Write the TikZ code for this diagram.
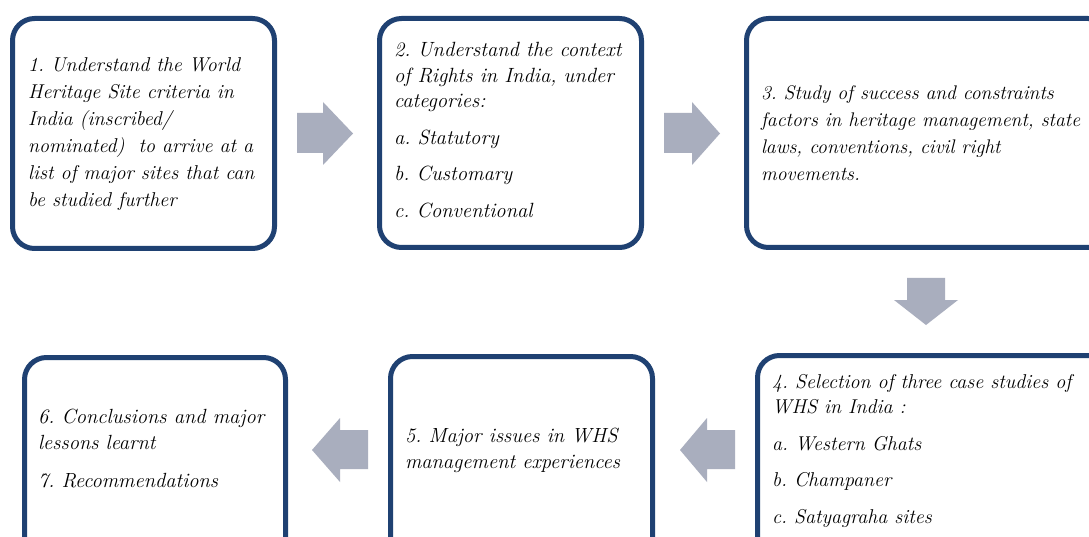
\documentclass[tikz,border=0pt]{standalone}
\usepackage{fontspec}
\definecolor{boxblue}{RGB}{31,65,114}
\definecolor{arrowgray}{RGB}{169,174,190}
\tikzset{
  stepbox/.style={draw=boxblue, line width=5pt, rounded corners=22pt, fill=white, inner sep=0pt, outer sep=0pt},
  boxtext/.style={anchor=base west, inner sep=0pt, outer sep=0pt, font=\itshape\frenchspacing},
  blockarrow/.style={fill=arrowgray, draw=none}
}
\newcommand{\itemgap}{\par\vspace{11pt}}
\begin{document}
\begin{tikzpicture}[x=1pt,y=-1pt]
\useasboundingbox[fill=white] (0,0) rectangle (1089,537);
% boxes
\draw[stepbox] (12.5,18.5) rectangle (274.5,248.5);
\node[inner sep=0pt] (b1) at (143.5,133.5) {};
\draw[stepbox] (379.5,18.5) rectangle (641.5,247.5);
\node[inner sep=0pt] (b2) at (510.5,133) {};
\draw[stepbox] (746.5,18.5) rectangle (1110,247.5);
\node[inner sep=0pt] (b3) at (920,133) {};
\draw[stepbox] (757.5,355.5) rectangle (1110,570);
\node[inner sep=0pt] (b4) at (920,450) {};
\draw[stepbox] (390.5,356.5) rectangle (652.5,570);
\node[inner sep=0pt] (b5) at (521,450) {};
\draw[stepbox] (24.5,357.5) rectangle (285.5,570);
\node[inner sep=0pt] (b6) at (155,450) {};
% texts
\node[boxtext] (t1) at (28,72) {\parbox[t]{300pt}{\raggedright\fontsize{20pt}{27pt}\selectfont
1. Understand the World\\
Heritage Site criteria in\\
India (inscribed/\\
nominated)\ \ to arrive at a\\
list of major sites that can\\
be studied further}};
\node[boxtext] (t2) at (394,57) {\parbox[t]{300pt}{\raggedright\fontsize{20.6pt}{25.5pt}\selectfont
2. Understand the context\\
of Rights in India, under\\
categories:\itemgap
a. Statutory\itemgap
b. Customary\itemgap
c. Conventional}};
\node[boxtext] (t3) at (761,100) {\parbox[t]{400pt}{\raggedright\fontsize{19.7pt}{26.7pt}\selectfont
3. Study of success and constraints\\
factors in heritage management, state\\
laws, conventions, civil right\\
movements.}};
\node[boxtext] (t4) at (772,388) {\parbox[t]{400pt}{\raggedright\fontsize{20pt}{25.5pt}\selectfont
4. Selection of three case studies of\\
WHS in India :\itemgap
a. Western Ghats\itemgap
b. Champaner\itemgap
c. Satyagraha sites}};
\node[boxtext] (t5) at (405,442) {\parbox[t]{300pt}{\raggedright\fontsize{20.5pt}{26.5pt}\selectfont
5. Major issues in WHS\\
management experiences}};
\node[boxtext] (t6) at (38,423) {\parbox[t]{300pt}{\raggedright\fontsize{20.5pt}{26.5pt}\selectfont
6. Conclusions and major\\
lessons learnt\itemgap
7. Recommendations}};
% block arrows
\fill[blockarrow] (297,113) -- (323,113) -- (323,102) -- (353,133.5) -- (323,165) -- (323,153) -- (297,153) -- cycle;
\fill[blockarrow] (664,113) -- (692,113) -- (692,102) -- (720,133.5) -- (692,165) -- (692,153) -- (664,153) -- cycle;
\fill[blockarrow] (907,278) -- (945,278) -- (945,300) -- (958,300) -- (926,325) -- (894,300) -- (907,300) -- cycle;
\fill[blockarrow] (368,430) -- (340,430) -- (340,418) -- (312,450) -- (340,482) -- (340,469) -- (368,469) -- cycle;
\fill[blockarrow] (735,430) -- (707,430) -- (707,418) -- (680,450) -- (707,482) -- (707,469) -- (735,469) -- cycle;
\end{tikzpicture}
\end{document}
